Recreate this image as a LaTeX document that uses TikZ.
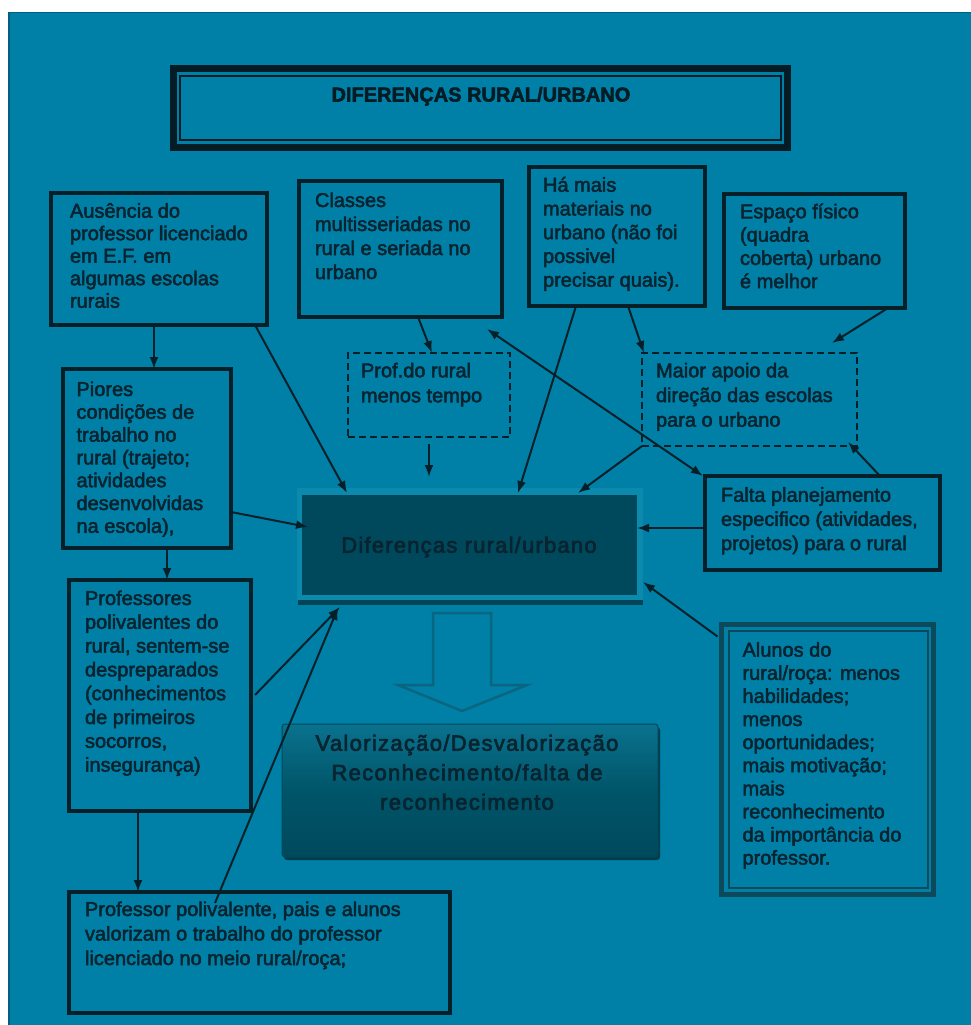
\documentclass[tikz,border=0pt]{standalone}
\usepackage{fontspec}
\setmainfont{Liberation Sans}[FakeBold=2.5]
\newfontfamily\spacedD{Liberation Sans}[LetterSpace=5.5,FakeBold=3]
\newfontfamily\spacedV{Liberation Sans}[LetterSpace=6,FakeBold=3]
\usetikzlibrary{calc,arrows.meta}
\definecolor{bg}{HTML}{0080A6}
\definecolor{bgedge}{HTML}{00607F}
\definecolor{ink}{HTML}{06202A}
\definecolor{txtc}{HTML}{082430}
\definecolor{titc}{HTML}{041C25}
\definecolor{dfill}{HTML}{00495C}
\definecolor{dframe}{HTML}{0B8AAE}
\definecolor{dshadow}{HTML}{034556}
\definecolor{vtop}{HTML}{0A728E}
\definecolor{vmid}{HTML}{005569}
\definecolor{vbot}{HTML}{00495C}
\definecolor{vshadow}{HTML}{023B4A}
\definecolor{alborder}{HTML}{0C4A5B}
\definecolor{blockc}{HTML}{0A6580}
\newcommand\boxtext[2]{\parbox[t]{330pt}{\fontsize{20}{#1}\selectfont\raggedright #2}}
\tikzset{
  box/.style={draw=ink, line width=4pt, anchor=north west, outer sep=0pt, inner sep=0pt},
  dbox/.style={draw=ink, line width=2pt, dash pattern=on 7pt off 4pt, anchor=north west, outer sep=0pt, inner sep=0pt},
  txt/.style={anchor=base west, inner sep=0pt, outer sep=0pt, text=txtc},
  conn/.style={draw=ink, line width=2pt, -{Latex[length=12pt,width=9pt]}},
}
\begin{document}
\begin{tikzpicture}[x=1pt,y=-1pt]
\useasboundingbox (0,0) rectangle (971,1025);
\fill[white] (0,0) rectangle (971,1025);
\fill[bg] (8,12) rectangle (971,1025);
\draw[bgedge, line width=1.5pt] (8.75,1025) -- (8.75,12.75) -- (971,12.75);

% title
\node[draw=titc, line width=7pt, anchor=north west, outer sep=0pt, inner sep=0pt, minimum width=614pt, minimum height=79pt] (T) at (173.5,68.5) {};
\node[draw=titc, line width=1.5pt, anchor=north west, outer sep=0pt, inner sep=0pt, minimum width=601pt, minimum height=64pt] (Ti) at (180,76) {};
\node[anchor=base, inner sep=0pt, text=titc, font=\bfseries\fontsize{20}{24}\selectfont] (tT) at (481,101.5) {DIFERENÇAS RURAL/URBANO};

% boxes
\node[box, minimum width=216pt, minimum height=132pt] (A) at (51,193) {};
\node[txt] (tA) at (70,217.7) {\boxtext{22.5}{Ausência do\\professor licenciado\\em E.F. em\\algumas escolas\\rurais}};

\node[box, minimum width=203pt, minimum height=136pt] (C) at (299,181) {};
\node[txt] (tC) at (315,207) {\boxtext{24}{Classes\\multisseriadas no\\rural e seriada no\\urbano}};

\node[box, minimum width=176pt, minimum height=139pt] (H) at (529,167) {};
\node[txt] (tH) at (543,191.7) {\boxtext{23.75}{Há mais\\materiais no\\urbano (não foi\\possivel\\precisar quais).}};

\node[box, minimum width=181pt, minimum height=114pt] (E) at (724,194) {};
\node[txt] (tE) at (740,218.3) {\boxtext{23.3}{Espaço físico\\(quadra\\coberta) urbano\\é melhor}};

\node[dbox, minimum width=162pt, minimum height=84pt] (P) at (348,353) {};
\node[txt] (tP) at (361,377.3) {\boxtext{25}{Prof.do rural\\menos tempo}};

\node[dbox, minimum width=215pt, minimum height=93pt] (M) at (642,353) {};
\node[txt] (tM) at (656,377.3) {\boxtext{24.7}{Maior apoio da\\direção das escolas\\para o urbano}};

\node[box, minimum width=168pt, minimum height=179pt] (Pi) at (63,369) {};
\node[txt] (tPi) at (76.5,396) {\boxtext{22.8}{Piores\\condições de\\trabalho no\\rural (trajeto;\\atividades\\desenvolvidas\\na escola),}};

\node[box, minimum width=235pt, minimum height=94pt] (F) at (705,476) {};
\node[txt] (tF) at (721,501.7) {\boxtext{24.2}{Falta planejamento\\especifico (atividades,\\projetos) para o rural}};

\node[box, minimum width=182pt, minimum height=231pt] (Pr) at (69,580) {};
\node[txt] (tPr) at (85,605) {\boxtext{23.8}{Professores\\polivalentes do\\rural, sentem-se\\despreparados\\(conhecimentos\\de primeiros\\socorros,\\insegurança)}};

\node[draw=alborder, line width=5pt, anchor=north west, outer sep=0pt, inner sep=0pt, minimum width=212pt, minimum height=270pt] (Al) at (721.5,624.5) {};
\node[draw=alborder, line width=1.5pt, anchor=north west, outer sep=0pt, inner sep=0pt, minimum width=199pt, minimum height=257pt] (Ali) at (729,631) {};
\node[txt] (tAl) at (742.5,656.7) {\boxtext{23.1}{Alunos do\\rural/roça: menos\\habilidades;\\menos\\oportunidades;\\mais motivação;\\mais\\reconhecimento\\da importância do\\professor.}};

\node[box, minimum width=381pt, minimum height=121pt] (B) at (69,892) {};
\node[txt] (tB) at (85,916) {\boxtext{24.5}{Professor polivalente, pais e alunos\\valorizam o trabalho do professor\\licenciado no meio rural/roça;}};

% central box
\fill[dframe] (297,488) rectangle (643,600);
\fill[dshadow] (298,600) rectangle (643,605);
\node[fill=dfill, anchor=north west, outer sep=0pt, inner sep=0pt, minimum width=335pt, minimum height=100pt] (D) at (302,495) {};
\node[anchor=base, inner sep=0pt, text=txtc, font=\spacedD\fontsize{22}{26}\selectfont] (tD) at (469,552.7) {Diferenças rural/urbano};

% block arrow
\draw[blockc, line width=2.5pt, line join=miter] (433,613) -- (491,613) -- (491,685) -- (527,685) -- (462,711) -- (398,685) -- (433,685) -- cycle;

% result box
\fill[vshadow, rounded corners=3pt] (284,727) rectangle (660,860);
\node[anchor=north west, outer sep=0pt, inner sep=0pt, minimum width=376pt, minimum height=133pt, rounded corners=3pt, top color=vtop, bottom color=vbot, middle color=vmid, draw=vbot, line width=1pt] (V) at (282,724) {};
\node[anchor=base, inner sep=0pt, text=txtc, font=\spacedV\fontsize{22}{29.5}\selectfont] (tV) at (467,750.7) {\parbox[t]{420pt}{\centering Valorização/Desvalorização\\Reconhecimento/falta de\\reconhecimento}};

% connectors
\draw[conn] ($(A.south west)+(103,0)$) -- ($(Pi.north west)+(91,0)$);
\draw[conn] ($(A.south west)+(204,0)$) -- ($(D.north west)+(45,-2)$);
\draw[conn] ($(C.south west)+(119,0)$) -- ($(P.north west)+(84,0)$);
\draw[conn] ($(P.south west)+(81,7)$) -- ($(D.north west)+(127,-18)$);
\draw[conn] ($(H.south west)+(47,0)$) -- ($(D.north west)+(216,-2)$);
\draw[conn] ($(H.south west)+(99,0)$) -- ($(M.north west)+(2,0)$);
\draw[conn] ($(E.south west)+(164,0)$) -- ($(M.north west)+(190,-10)$);
\draw[conn] (M.south west) -- ($(D.north west)+(276,-2)$);
\coordinate (cfree) at ($(C.south east)+(-15,12)$);
\draw[draw=ink, line width=2pt, {Latex[length=12pt,width=9pt]}-{Latex[length=12pt,width=9pt]}] (cfree) -- ($(F.north west)+(-2,0)$);
\draw[conn] ($(F.north west)+(175,0)$) -- ($(M.south east)+(-9,-4)$);
\draw[conn] ($(F.north west)+(0,52)$) -- ($(D.north east)+(0,33)$);
\draw[conn] ($(Pi.north east)+(0,143)$) -- ($(D.north west)+(6,32)$);
\draw[conn] ($(Al.north west)+(-4,12)$) -- ($(D.north east)+(6,87)$);
\draw[conn] ($(Pr.north east)+(4,115)$) -- ($(D.south west)+(38,12)$);
\draw[conn] ($(B.north west)+(146,11)$) -- ($(D.south west)+(36,13)$);
\draw[conn] ($(Pi.south west)+(104,0)$) -- ($(Pr.north west)+(98,0)$);
\draw[conn] ($(Pr.south west)+(69,0)$) -- ($(B.north west)+(69,0)$);
\end{tikzpicture}
\end{document}
